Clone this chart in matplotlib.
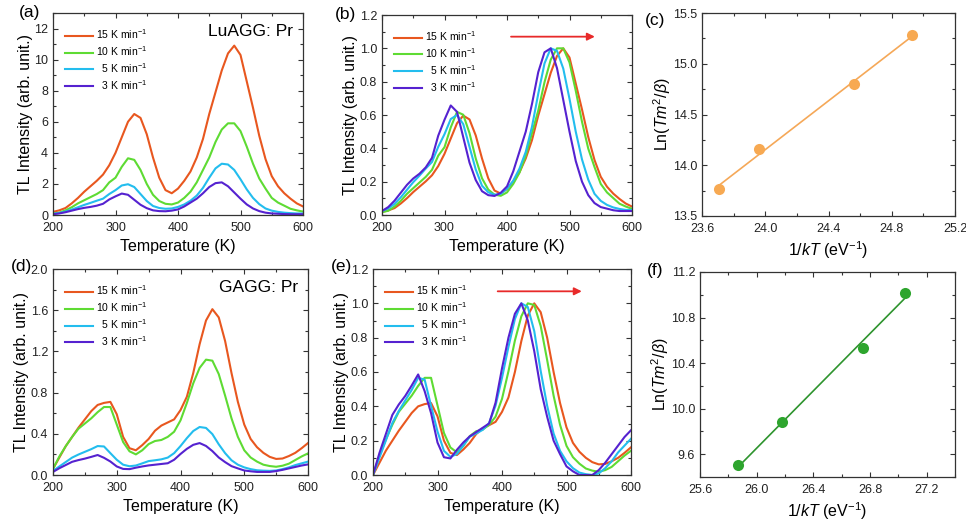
import numpy as np
import matplotlib
matplotlib.use("Agg")
import matplotlib.pyplot as plt
from matplotlib.ticker import MultipleLocator, FormatStrFormatter

plt.rcParams['font.family'] = ['Liberation Sans', 'DejaVu Sans']
plt.rcParams['mathtext.fontset'] = 'custom'
plt.rcParams['mathtext.rm'] = 'Liberation Sans'
plt.rcParams['mathtext.it'] = 'Liberation Sans:italic'
plt.rcParams['axes.edgecolor'] = '#333333'

# temperature grid (K), 10 K steps
temp = list(range(200, 601, 10))

rates = ['15 K min$^{-1}$', '10 K min$^{-1}$', '  5 K min$^{-1}$', '  3 K min$^{-1}$']
colors = ['#E8571F', '#5EDB33', '#23BDEE', '#5522D0']

# LuAGG:Pr glow curves (a)
luagg_15 = [0.2, 0.3, 0.45, 0.75, 1.1, 1.5, 1.85, 2.2, 2.6, 3.2, 4.0, 5.0, 6.0, 6.5, 6.25,
            5.2, 3.7, 2.4, 1.6, 1.4, 1.7, 2.2, 2.8, 3.7, 4.9, 6.5, 7.9, 9.3, 10.4, 10.9,
            10.3, 8.6, 6.9, 5.1, 3.6, 2.5, 1.85, 1.4, 1.05, 0.75, 0.55]
luagg_10 = [0.1, 0.15, 0.3, 0.5, 0.75, 0.95, 1.15, 1.35, 1.6, 2.1, 2.4, 3.1, 3.65, 3.55, 2.9,
            2.0, 1.3, 0.9, 0.72, 0.68, 0.8, 1.1, 1.5, 2.1, 2.9, 3.7, 4.7, 5.5, 5.9, 5.9,
            5.4, 4.4, 3.3, 2.35, 1.7, 1.1, 0.8, 0.6, 0.4, 0.3, 0.22]
luagg_5 = [0.08, 0.13, 0.22, 0.35, 0.5, 0.65, 0.78, 0.92, 1.05, 1.35, 1.6, 1.9, 1.98, 1.8, 1.35,
           0.9, 0.58, 0.45, 0.4, 0.42, 0.52, 0.68, 0.92, 1.25, 1.75, 2.4, 3.0, 3.3, 3.25, 2.9,
           2.3, 1.65, 1.1, 0.7, 0.42, 0.28, 0.2, 0.15, 0.12, 0.1, 0.1]
luagg_3 = [0.05, 0.1, 0.18, 0.28, 0.38, 0.46, 0.52, 0.6, 0.72, 1.0, 1.2, 1.38, 1.3, 0.98, 0.66,
           0.44, 0.3, 0.25, 0.24, 0.28, 0.36, 0.55, 0.8, 1.05, 1.4, 1.8, 2.05, 2.1, 1.85, 1.45,
           1.05, 0.68, 0.42, 0.25, 0.15, 0.1, 0.08, 0.06, 0.05, 0.05, 0.05]

# GAGG:Pr glow curves (d)
gagg_15 = [0.06, 0.17, 0.28, 0.37, 0.46, 0.54, 0.62, 0.68, 0.70, 0.71, 0.59, 0.37, 0.26, 0.24, 0.29,
           0.35, 0.43, 0.48, 0.51, 0.54, 0.63, 0.76, 0.99, 1.27, 1.50, 1.61, 1.53, 1.30, 0.99, 0.71,
           0.49, 0.35, 0.27, 0.215, 0.176, 0.156, 0.16, 0.184, 0.215, 0.26, 0.31]
gagg_10 = [0.06, 0.18, 0.28, 0.37, 0.45, 0.50, 0.55, 0.61, 0.66, 0.66, 0.49, 0.32, 0.23, 0.20, 0.24,
           0.30, 0.33, 0.34, 0.37, 0.42, 0.53, 0.70, 0.89, 1.04, 1.12, 1.11, 0.98, 0.77, 0.55, 0.37,
           0.24, 0.17, 0.13, 0.10, 0.087, 0.08, 0.09, 0.11, 0.145, 0.18, 0.21]
gagg_5 = [0.04, 0.083, 0.126, 0.169, 0.199, 0.225, 0.251, 0.281, 0.277, 0.212, 0.148, 0.1, 0.085, 0.092, 0.113,
          0.135, 0.143, 0.152, 0.169, 0.212, 0.281, 0.358, 0.427, 0.466, 0.457, 0.397, 0.298, 0.212, 0.143, 0.1,
          0.074, 0.057, 0.046, 0.042, 0.04, 0.044, 0.057, 0.074, 0.096, 0.113, 0.13]
gagg_3 = [0.030, 0.066, 0.097, 0.128, 0.145, 0.159, 0.176, 0.194, 0.167, 0.131, 0.083, 0.059, 0.057, 0.071, 0.083,
          0.093, 0.100, 0.107, 0.114, 0.148, 0.204, 0.254, 0.293, 0.310, 0.282, 0.232, 0.170, 0.125, 0.086, 0.064,
          0.044, 0.036, 0.030, 0.030, 0.030, 0.038, 0.050, 0.064, 0.078, 0.092, 0.103]

# heating-rate plots (c) and (f)
c_x = [23.71, 23.96, 24.56, 24.93]
c_y = [13.77, 14.16, 14.80, 15.28]
f_x = [25.87, 26.18, 26.75, 27.05]
f_y = [9.505, 9.88, 10.535, 11.02]

luagg = [luagg_15, luagg_10, luagg_5, luagg_3]
gagg = [gagg_15, gagg_10, gagg_5, gagg_3]

W, H = 966, 527
fig = plt.figure(figsize=(W / 100, H / 100), dpi=100)


def add_ax(l, t, r, b):
    return fig.add_axes([l / W, 1 - b / H, (r - l) / W, (b - t) / H])


def style(ax, xmaj, xmin, ymaj, ymin, fmt=None):
    ax.xaxis.set_major_locator(MultipleLocator(xmaj))
    ax.xaxis.set_minor_locator(MultipleLocator(xmin))
    ax.yaxis.set_major_locator(MultipleLocator(ymaj))
    ax.yaxis.set_minor_locator(MultipleLocator(ymin))
    if fmt:
        ax.yaxis.set_major_formatter(FormatStrFormatter(fmt))
    ax.tick_params(which='both', direction='in', top=True, right=True, labelsize=9, colors='#333333',
                   labelcolor='#222222', width=0.8)
    ax.tick_params(which='major', length=3.5)
    ax.tick_params(which='minor', length=2)
    ax.tick_params(axis='x', pad=5)
    for s in ax.spines.values():
        s.set_linewidth(0.9)


def tl_panel(ax, curves, norm):
    for ys, c, lab in zip(curves, colors, rates):
        ys = np.array(ys)
        if norm == 'max':
            ys = ys / ys.max()
        elif norm == 'minmax':
            ys = (ys - ys.min()) / (ys.max() - ys.min())
        ax.plot(temp, ys, color=c, lw=1.5, label=lab, solid_joinstyle='round')
    ax.set_xlim(200, 600)
    ax.set_xlabel('Temperature (K)', fontsize=11.5, labelpad=4)
    ax.set_ylabel('TL Intensity (arb. unit.)', fontsize=11.5, labelpad=1)
    ax.legend(loc='upper left', bbox_to_anchor=(0.01, 0.975), frameon=False, fontsize=7.5,
              handlelength=2.7, handletextpad=0.3, labelspacing=0.3, borderaxespad=0.5)


def arrow(ax, x0, x1, y):
    ax.annotate('', xy=(x1, y), xytext=(x0, y),
                arrowprops=dict(arrowstyle='-|>', color='#E82A2A', lw=1.3, mutation_scale=11))


def fit_panel(ax, xs, ys, mc, lc):
    k, b = np.polyfit(xs, ys, 1)
    xx = np.array([min(xs), max(xs)])
    ax.plot(xx, k * xx + b, color=lc, lw=1.2)
    ax.plot(xs, ys, 'o', color=mc, ms=8, mec='none')
    ax.set_xlabel(r'1/$kT$ (eV$^{-1}$)', fontsize=11.5, labelpad=3)
    ax.set_ylabel(r'Ln($Tm^2/\beta$)', fontsize=11.5, labelpad=0)


# (a)
ax = add_ax(53, 13, 303, 215)
tl_panel(ax, luagg, None)
ax.set_ylim(0, 13)
style(ax, 100, 50, 2, 1)
ax.text(0.96, 0.91, 'LuAGG: Pr', transform=ax.transAxes, ha='right', va='center', fontsize=12.5)
fig.text(30 / W, 1 - 13 / H, '(a)', fontsize=12.5, ha='center', va='center')

# (b)
ax = add_ax(382, 15, 632, 215)
tl_panel(ax, luagg, 'max')
ax.set_ylim(0, 1.2)
style(ax, 100, 50, 0.2, 0.1, '%.1f')
arrow(ax, 402, 545, 1.07)
fig.text(345 / W, 1 - 15 / H, '(b)', fontsize=12.5, ha='center', va='center')

# (c)
ax = add_ax(702, 13, 955, 216)
fit_panel(ax, c_x, c_y, '#F7A952', '#F5A858')
ax.set_xlim(23.6, 25.2)
ax.set_ylim(13.5, 15.5)
style(ax, 0.4, 0.2, 0.5, 0.25, '%.1f')
ax.xaxis.set_major_formatter(FormatStrFormatter('%.1f'))
fig.text(655 / W, 1 - 20 / H, '(c)', fontsize=12.5, ha='center', va='center')

# (d)
ax = add_ax(53, 269, 308, 475)
tl_panel(ax, gagg, None)
ax.set_ylim(0, 2.0)
style(ax, 100, 50, 0.4, 0.2, '%.1f')
ax.text(0.96, 0.91, 'GAGG: Pr', transform=ax.transAxes, ha='right', va='center', fontsize=12.5)
fig.text(22 / W, 1 - 266 / H, '(d)', fontsize=12.5, ha='center', va='center')

# (e)
ax = add_ax(373, 269, 631, 475)
tl_panel(ax, gagg, 'minmax')
ax.set_ylim(0, 1.2)
style(ax, 100, 50, 0.2, 0.1, '%.1f')
arrow(ax, 389, 528, 1.07)
fig.text(342 / W, 1 - 267 / H, '(e)', fontsize=12.5, ha='center', va='center')

# (f)
ax = add_ax(700, 272, 955, 477)
fit_panel(ax, f_x, f_y, '#2EA52E', '#2E942E')
ax.set_xlim(25.6, 27.4)
ax.set_ylim(9.4, 11.2)
style(ax, 0.4, 0.2, 0.4, 0.2, '%.1f')
ax.xaxis.set_major_formatter(FormatStrFormatter('%.1f'))
fig.text(655 / W, 1 - 270 / H, '(f)', fontsize=12.5, ha='center', va='center')

fig.savefig('out.png', dpi=100)
